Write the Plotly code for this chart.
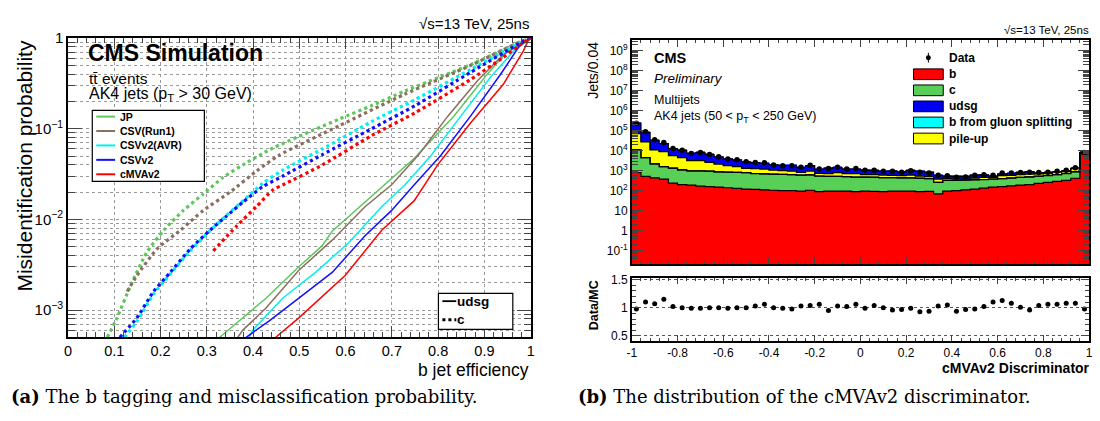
import plotly.graph_objects as go

W, H = 1100, 421
def px(x): return x / W
def py(y): return 1 - y / H

# ---------------- Left panel data (b jet efficiency vs misidentification) ----------------
taggers = ["JP", "CSV(Run1)", "CSVv2(AVR)", "CSVv2", "cMVAv2"]
colors_l = ["#5cc85c", "#8c6e5f", "#00f0f0", "#1010ff", "#ff0000"]

c_eff = {
    "JP":        [0.085, 0.106, 0.136, 0.170, 0.207, 0.249, 0.292, 0.335, 0.378, 0.442, 0.586, 0.656, 0.727, 0.870, 0.985, 1.0],
    "CSV(Run1)": [0.128, 0.149, 0.192, 0.243, 0.292, 0.350, 0.407, 0.456, 0.586, 0.727, 0.870, 0.985, 1.0],
    "CSVv2(AVR)":[0.122, 0.149, 0.185, 0.221, 0.264, 0.307, 0.342, 0.378, 0.421, 0.464, 0.550, 0.656, 0.750, 0.870, 0.985, 1.0],
    "CSVv2":     [0.112, 0.149, 0.185, 0.221, 0.264, 0.307, 0.342, 0.378, 0.421, 0.464, 0.550, 0.656, 0.750, 0.870, 0.985, 1.0],
    "cMVAv2":    [0.314, 0.364, 0.407, 0.442, 0.464, 0.550, 0.656, 0.750, 0.870, 0.940, 0.985, 1.0],
}
c_mis = {
    "JP":        [5e-4, 8.2e-4, 1.9e-3, 4.3e-3, 7.6e-3, 0.0125, 0.019, 0.029, 0.040, 0.061, 0.128, 0.18, 0.26, 0.51, 0.95, 1.0],
    "CSV(Run1)": [1.6e-3, 2.4e-3, 4.7e-3, 7.6e-3, 0.0125, 0.020, 0.034, 0.051, 0.108, 0.24, 0.50, 0.95, 1.0],
    "CSVv2(AVR)":[5e-4, 7.5e-4, 1.5e-3, 2.5e-3, 4.5e-3, 7.5e-3, 0.011, 0.016, 0.025, 0.035, 0.060, 0.12, 0.21, 0.45, 0.93, 1.0],
    "CSVv2":     [5e-4, 8.2e-4, 1.6e-3, 2.6e-3, 4.7e-3, 7.6e-3, 0.0108, 0.0155, 0.023, 0.030, 0.052, 0.10, 0.18, 0.42, 0.93, 1.0],
    "cMVAv2":    [4.5e-3, 8.4e-3, 0.0138, 0.021, 0.024, 0.040, 0.084, 0.15, 0.35, 0.61, 0.90, 1.0],
}
l_eff = {
    "JP":        [0.328, 0.357, 0.428, 0.499, 0.549, 0.571, 0.606, 0.684, 0.748, 0.834, 0.906, 0.956, 1.0],
    "CSV(Run1)": [0.367, 0.378, 0.428, 0.499, 0.571, 0.642, 0.699, 0.757, 0.821, 0.885, 0.941, 1.0],
    "CSVv2(AVR)":[0.392, 0.399, 0.464, 0.535, 0.606, 0.678, 0.728, 0.785, 0.849, 0.913, 0.963, 1.0],
    "CSVv2":     [0.385, 0.435, 0.499, 0.571, 0.642, 0.699, 0.748, 0.806, 0.870, 0.935, 0.977, 1.0],
    "cMVAv2":    [0.449, 0.499, 0.599, 0.678, 0.748, 0.799, 0.870, 0.941, 0.984, 0.995, 1.0],
}
l_mis = {
    "JP":        [5e-4, 6.7e-4, 1.35e-3, 3.0e-3, 5.1e-3, 7.4e-3, 0.0107, 0.024, 0.047, 0.138, 0.40, 0.78, 1.0],
    "CSV(Run1)": [5e-4, 6e-4, 1.05e-3, 2.75e-3, 5.9e-3, 0.0138, 0.024, 0.051, 0.138, 0.34, 0.66, 1.0],
    "CSVv2(AVR)":[5e-4, 6e-4, 1.35e-3, 2.6e-3, 5.5e-3, 0.0138, 0.024, 0.051, 0.138, 0.37, 0.72, 1.0],
    "CSVv2":     [5e-4, 7.6e-4, 1.35e-3, 2.6e-3, 6.6e-3, 0.0125, 0.024, 0.051, 0.138, 0.40, 0.84, 1.0],
    "cMVAv2":    [5e-4, 8.2e-4, 2.4e-3, 7.6e-3, 0.016, 0.040, 0.116, 0.31, 0.72, 0.95, 1.0],
}

# ---------------- Right panel data (cMVAv2 discriminator, 50 bins of 0.04) ----------------
bin_lo, bin_w, nbins = -1.0, 0.04, 50
b_jets = [800, 520, 440, 380, 240, 200, 190, 170, 160, 150, 140, 130, 120, 115, 110, 105, 100, 100, 95, 105,
          90, 95, 95, 95, 90, 95, 92, 90, 95, 95, 95, 90, 92, 70, 95, 100, 110, 120, 135, 150,
          160, 175, 190, 200, 230, 260, 290, 330, 420, 7000]
c_jets = [10200, 4000, 1760, 1220, 1110, 900, 790, 810, 790, 720, 710, 690, 680, 605, 590, 575, 550, 540, 505, 515,
          450, 425, 425, 405, 390, 385, 378, 360, 355, 345, 345, 330, 308, 190, 235, 230, 230, 230, 225, 230,
          240, 255, 270, 290, 300, 310, 340, 390, 460, 700]
gsp_jets = [25, 15, 12, 10, 7, 6, 6, 5, 5, 5, 4, 4, 4, 4, 3, 3, 3, 3, 3, 3,
            3, 3, 3, 3, 3, 3, 3, 3, 3, 3, 3, 3, 3, 2, 3, 3, 3, 4, 4, 4,
            5, 5, 6, 6, 7, 8, 9, 10, 12, 150]
pu_jets = [60000, 23500, 8800, 7400, 4250, 3400, 2220, 2220, 1650, 1230, 950, 780, 500, 530, 500, 370, 350, 310, 230, 330,
           200, 200, 280, 210, 230, 150, 160, 150, 125, 120, 160, 105, 100, 120, 70, 40, 40, 70, 100, 80,
           160, 145, 170, 170, 160, 150, 200, 190, 380, 200]
udsg_jets = [174000, 53000, 22600, 13600, 7100, 6000, 4070, 4980, 3900, 2900, 2140, 1900, 1500, 1270, 1160, 900, 820, 870, 610, 840,
             420, 640, 640, 490, 510, 430, 380, 330, 395, 316, 410, 389, 330, 193, 133, 145, 125, 182, 158, 76,
             130, 147, 172, 225, 89, 82, 47, 62, 45, 300]
data = [240000, 89000, 36000, 26000, 13000, 10500, 7200, 8100, 6500, 5000, 3900, 3500, 2800, 2600, 2500, 1950, 1800, 1780, 1480, 1860,
        1230, 1290, 1480, 1230, 1290, 1050, 1050, 930, 930, 850, 1000, 850, 780, 590, 560, 470, 490, 590, 630, 590,
        780, 780, 810, 850, 810, 850, 930, 1050, 1410, 8200]
ratio = [0.98, 1.10, 1.07, 1.15, 1.02, 1.00, 0.99, 0.99, 1.00, 1.00, 0.99, 1.00, 1.00, 1.03, 1.06, 1.00, 0.99, 0.98, 1.03, 1.04,
         1.06, 0.95, 1.03, 1.02, 1.06, 0.99, 1.04, 1.00, 0.96, 0.97, 0.99, 0.93, 0.94, 1.03, 1.05, 0.94, 0.97, 0.98, 1.02, 1.10,
         1.13, 1.08, 1.01, 0.96, 1.04, 1.06, 1.06, 1.08, 1.08, 0.98]

components = [("b", b_jets, "#ff0000"), ("c", c_jets, "#58d058"), ("b from gluon splitting", gsp_jets, "#00ffff"),
              ("pile-up", pu_jets, "#ffff00"), ("udsg", udsg_jets, "#0000f0")]
legend_order = [("b", "#ff0000"), ("c", "#58d058"), ("udsg", "#0000f0"),
                ("b from gluon splitting", "#00ffff"), ("pile-up", "#ffff00")]

centers = [bin_lo + bin_w * (i + 0.5) for i in range(nbins)]
edges = [bin_lo + bin_w * i for i in range(nbins + 1)]

fig = go.Figure()

# left panel curves
for name, col in zip(taggers, colors_l):
    fig.add_trace(go.Scatter(x=c_eff[name], y=c_mis[name], mode="lines", xaxis="x", yaxis="y",
                             line=dict(color=col, width=3.2, dash="dot", shape="spline", smoothing=0.6),
                             showlegend=False, hoverinfo="skip"))
    fig.add_trace(go.Scatter(x=l_eff[name], y=l_mis[name], mode="lines", xaxis="x", yaxis="y",
                             line=dict(color=col, width=1.5),
                             showlegend=False, hoverinfo="skip"))

# right panel stacked histogram
cum = [0.0] * nbins
levels = []
for name, vals, col in components:
    fig.add_trace(go.Bar(x=centers, y=vals, width=bin_w, xaxis="x2", yaxis="y2",
                         marker=dict(color=col, line=dict(width=0.6, color=col)),
                         showlegend=False, hoverinfo="skip"))
    cum = [c + v for c, v in zip(cum, vals)]
    levels.append(list(cum))
for lev in levels:
    fig.add_trace(go.Scatter(x=edges, y=lev + [lev[-1]], mode="lines", xaxis="x2", yaxis="y2",
                             line=dict(color="black", width=1.2, shape="hv"),
                             showlegend=False, hoverinfo="skip"))
fig.add_trace(go.Scatter(x=centers, y=data, mode="markers", xaxis="x2", yaxis="y2",
                         marker=dict(color="black", size=5.5),
                         showlegend=False, hoverinfo="skip"))
fig.add_trace(go.Scatter(x=centers, y=ratio, mode="markers", xaxis="x3", yaxis="y3",
                         marker=dict(color="black", size=5),
                         showlegend=False, hoverinfo="skip"))

FONT = "Liberation Sans, Arial, sans-serif"
grid = dict(showgrid=True, gridcolor="#9a9a9a", griddash="dot", gridwidth=1)

def log_minor(lo, hi):
    return [k * 10 ** e for e in range(lo, hi) for k in range(2, 10)]

fig.update_layout(
    width=W, height=H, margin=dict(l=0, r=0, t=0, b=0),
    paper_bgcolor="white", plot_bgcolor="white", barmode="stack", bargap=0,
    font=dict(family=FONT, color="black"),
    xaxis=dict(domain=[px(63.5), px(530)], range=[0, 1], anchor="y",
               tickvals=[i / 10 for i in range(11)], ticktext=["0", "0.1", "0.2", "0.3", "0.4", "0.5", "0.6", "0.7", "0.8", "0.9", "1"],
               ticks="inside", ticklen=11, tickwidth=1, mirror="allticks", showline=True, linecolor="black", linewidth=1.5,
               tickfont=dict(size=14.5), zeroline=False,
               minor=dict(dtick=0.02, ticks="inside", ticklen=5, showgrid=False), **grid),
    yaxis=dict(domain=[py(337), py(30)], type="log", range=[-3.30, 0], anchor="x",
               tickvals=[1e-3, 1e-2, 1e-1, 1], ticktext=["10<sup>−3</sup>", "10<sup>−2</sup>", "10<sup>−1</sup>", "1"],
               ticks="inside", ticklen=14, mirror="allticks", showline=True, linecolor="black", linewidth=1.5,
               tickfont=dict(size=15), zeroline=False,
               minor=dict(tickvals=log_minor(-4, 0), ticks="inside", ticklen=7, showgrid=True,
                          gridcolor="#9a9a9a", griddash="dot"), **grid),
    xaxis2=dict(domain=[px(632), px(1093)], range=[-1, 1], anchor="y2", showticklabels=False,
                tickvals=[-1 + 0.2 * i for i in range(11)], ticks="inside", ticklen=7, mirror="allticks",
                showline=True, linecolor="black", linewidth=1.5, showgrid=False, zeroline=False,
                minor=dict(dtick=0.04, ticks="inside", ticklen=3)),
    yaxis2=dict(domain=[py(262), py(32)], type="log", range=[-1.68, 9.54], anchor="x2",
                tickvals=[10 ** e for e in range(-1, 10)],
                ticktext=["10<sup>-1</sup>", "1", "10"] + ["10<sup>%d</sup>" % e for e in range(2, 10)],
                ticks="inside", ticklen=11, mirror="allticks", showline=True, linecolor="black", linewidth=1.5,
                tickfont=dict(size=12), showgrid=False, zeroline=False,
                minor=dict(tickvals=log_minor(-2, 10), ticks="inside", ticklen=6)),
    xaxis3=dict(domain=[px(632), px(1093)], range=[-1, 1], anchor="y3",
                tickvals=[round(-1 + 0.2 * i, 1) for i in range(11)],
                ticktext=["-1", "-0.8", "-0.6", "-0.4", "-0.2", "0", "0.2", "0.4", "0.6", "0.8", "1"],
                ticks="inside", ticklen=6, mirror="allticks", showline=True, linecolor="black", linewidth=1.5,
                tickfont=dict(size=12), showgrid=False, zeroline=False,
                minor=dict(dtick=0.04, ticks="inside", ticklen=3)),
    yaxis3=dict(domain=[py(341), py(276)], range=[0.41, 1.53], anchor="x3",
                tickvals=[0.5, 1, 1.5], ticktext=["0.5", "1", "1.5"],
                ticks="inside", ticklen=8, mirror="allticks", showline=True, linecolor="black", linewidth=1.5,
                tickfont=dict(size=12), showgrid=True, gridcolor="#555555", griddash="dot", gridwidth=1, zeroline=False,
                minor=dict(dtick=0.1, ticks="inside", ticklen=4)),
)

ann = []
def text(x, y, t, size, xanchor="left", yanchor="middle", angle=0, family=FONT):
    ann.append(dict(x=px(x), y=py(y), xref="paper", yref="paper", text=t, showarrow=False,
                    xanchor=xanchor, yanchor=yanchor, textangle=angle,
                    font=dict(size=size, family=family, color="black")))

# left panel texts
text(530, 15, "√s=13 TeV, 25ns", 15, xanchor="right")
text(82, 45, "<b>CMS Simulation</b>", 23)
text(83, 71, "t\u0074\u0304 events", 15.5)
text(83, 88, "AK4 jets (p<sub>T</sub> > 30 GeV)", 16)
text(20, 30, "Misidentification probability", 21, xanchor="center", yanchor="top", angle=-90)
text(530, 371, "b jet efficiency", 17.5, xanchor="right")

shapes = []
def rect(x0, y0, x1, y1, fill="white", lw=1, lc="black"):
    shapes.append(dict(type="rect", xref="paper", yref="paper", x0=px(x0), x1=px(x1), y0=py(y1), y1=py(y0),
                       fillcolor=fill, line=dict(color=lc, width=lw)))
def hline(x0, x1, y, col, width=2, dash="solid"):
    shapes.append(dict(type="line", xref="paper", yref="paper", x0=px(x0), x1=px(x1), y0=py(y), y1=py(y),
                       line=dict(color=col, width=width, dash=dash)))

# left legend (taggers)
rect(88, 104, 201, 177, lw=1.2)
for i, (name, col) in enumerate(zip(taggers, colors_l)):
    yy = 110.5 + i * 14.8
    hline(92, 111, yy, col, width=2)
    text(114, yy, "<b>%s</b>" % name, 10.5)
# second legend (udsg / c)
rect(437, 292, 512, 329, lw=1.2)
hline(441, 455, 300, "black", width=1.8)
text(454, 300, "<b>udsg</b>", 13.5)
hline(441, 455, 319, "black", width=3, dash="dot")
text(454, 319, "<b>c</b>", 13.5)

# right panel texts
text(1095, 22, "√s=13 TeV, 25ns", 11.5, xanchor="right")
text(652, 50, "<b>CMS</b>", 14.5)
text(652, 71, "<i>Preliminary</i>", 13.5)
text(652, 93, "Multijets", 12.5)
text(652, 111, "AK4 jets (50 < p<sub>T</sub> < 250 GeV)", 12.5)
text(593, 32, "Jets/0.04", 14, xanchor="center", yanchor="top", angle=-90)
text(594, 304, "<b>Data/MC</b>", 12.5, xanchor="center", angle=-90)
text(1096, 369, "<b>cMVAv2 Discriminator</b>", 14, xanchor="right")

# right legend
ann_y = [50, 67, 83.5, 100, 116.5, 133]
shapes.append(dict(type="line", xref="paper", yref="paper", x0=px(931), x1=px(931), y0=py(45), y1=py(55),
                   line=dict(color="black", width=1)))
shapes.append(dict(type="circle", xref="paper", yref="paper", x0=px(928.5), x1=px(933.5), y0=py(52.5), y1=py(47.5),
                   fillcolor="black", line=dict(color="black", width=0)))
text(950, ann_y[0], "<b>Data</b>", 12)
for (name, col), yy in zip(legend_order, ann_y[1:]):
    rect(916, yy - 5.5, 946, yy + 5.5, fill=col, lw=1)
    text(950, yy, "<b>%s</b>" % name, 12)

# captions
text(4, 398, "<b>(a)</b> The b tagging and misclassification probability.", 18, family="DejaVu Serif, serif")
text(576, 398, "<b>(b)</b> The distribution of the cMVAv2 discriminator.", 18, family="DejaVu Serif, serif")

fig.update_layout(annotations=ann, shapes=shapes)
fig.write_html("out.html")
